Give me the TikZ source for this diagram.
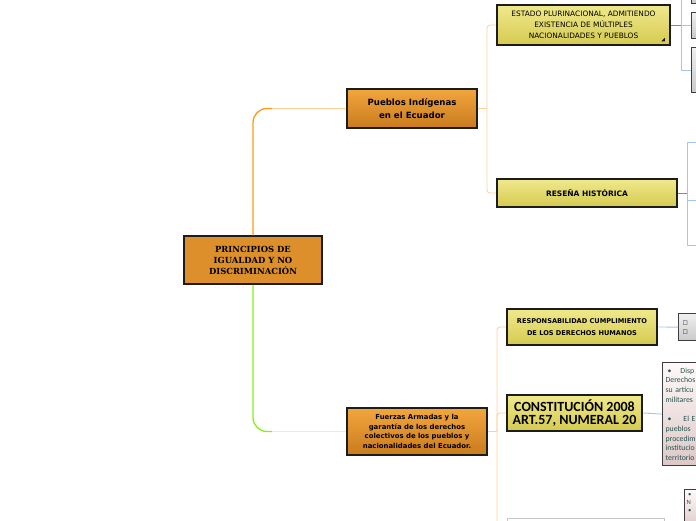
\documentclass[tikz,border=0pt]{standalone}
\usepackage{fontspec}
\setmainfont{DejaVu Sans}
\newfontfamily\slabfont{DejaVu Serif}
\newfontfamily\calfont{Carlito}
\usetikzlibrary{
  positioning,
  calc,
  shadows
}
\definecolor{mmOrange}{HTML}{DC8F2A}
\definecolor{mmOrangeTop}{HTML}{F3A63D}
\definecolor{mmOrangeBot}{HTML}{C97B1E}
\definecolor{mmYellowTop}{HTML}{EFE98C}
\definecolor{mmYellowBot}{HTML}{D5CA50}
\definecolor{mmBorder}{HTML}{1C1C1C}
\definecolor{linkOrange}{HTML}{FF9A12}
\definecolor{linkOrangeLight}{HTML}{FFD09A}
\definecolor{linkGreen}{HTML}{86F01C}
\definecolor{linkGreenLight}{HTML}{D9FBBA}
\definecolor{linkBlue}{HTML}{5A8FDA}
\definecolor{linkBlueLight}{HTML}{A6C4F0}
\definecolor{noteText}{HTML}{24544E}

\tikzset{
  mmshadow/.style={drop shadow={shadow xshift=1.3pt, shadow yshift=-1.3pt, opacity=0.3}},
  rootbox/.style={draw=mmBorder, line width=1.5pt, fill=mmOrange, mmshadow,
    minimum width=138pt, minimum height=48pt, inner sep=2pt, align=center,
    font=\slabfont\bfseries\fontsize{8.4}{11}\selectfont},
  topicbox/.style={draw=mmBorder, line width=1.6pt, top color=mmOrangeTop,
    bottom color=mmOrangeBot, mmshadow, inner sep=2pt, align=center},
  subbox/.style={draw=mmBorder, line width=2.5pt, top color=mmYellowTop,
    bottom color=mmYellowBot, mmshadow, inner sep=2pt, align=center},
  leafbox/.style={draw=mmBorder!85, line width=1.2pt, top color=gray!12,
    bottom color=gray!42, anchor=north west, inner sep=0pt},
  notebox/.style={draw=mmBorder!85, line width=1.2pt, top color=white!90!pink,
    bottom color=gray!45!pink!60, anchor=north west, align=left,
    text=noteText, font=\calfont\fontsize{7.8}{9.7}\selectfont},
  mainlink/.style={line width=1.3pt, rounded corners=14pt},
  sublink/.style={line width=0.8pt, rounded corners=3pt}
}

\begin{document}
\begin{tikzpicture}[x=1pt, y=-1pt]
  \useasboundingbox (0,0) rectangle (696,520);
  \clip (0,0) rectangle (696,520);
  \fill[white] (0,0) rectangle (696,520);

  % central topic and main topics
  \node[rootbox] (root) at (253,260) {PRINCIPIOS DE\\IGUALDAD Y NO\\DISCRIMINACIÓN};
  \node[topicbox, minimum width=130pt, minimum height=39pt,
    font=\bfseries\fontsize{8.6}{12.5}\selectfont] (pueblos) at (412,108.5)
    {Pueblos Indígenas\\en el Ecuador};
  \node[topicbox, minimum width=140pt, minimum height=47pt,
    font=\bfseries\fontsize{6.9}{9.4}\selectfont] (fuerzas) at (417,431.5)
    {Fuerzas Armadas y la\\garantía de los derechos\\colectivos de los pueblos y\\nacionalidades del Ecuador.};

  % subtopics
  \node[subbox, minimum width=173pt, minimum height=40pt,
    font=\fontsize{7.4}{11}\selectfont] (estado) at (583.5,25)
    {ESTADO PLURINACIONAL, ADMITIENDO\\EXISTENCIA DE MÚLTIPLES\\NACIONALIDADES Y PUEBLOS};
  \node[subbox, minimum width=180pt, minimum height=28pt,
    font=\bfseries\fontsize{7.5}{9}\selectfont] (resena) at (587,193) {RESEÑA HISTÓRICA};
  \node[subbox, minimum width=150pt, minimum height=36pt,
    font=\bfseries\fontsize{6.6}{12}\selectfont] (respons) at (582,327)
    {RESPONSABILIDAD CUMPLIMIENTO\\DE LOS DERECHOS HUMANOS};
  \node[subbox, minimum width=135pt, minimum height=36pt,
    font=\calfont\bfseries\fontsize{14}{13.5}\selectfont] (constit) at (574.5,413)
    {CONSTITUCIÓN 2008\\ART.57, NUMERAL 20};
  \fill[mmBorder] ($(estado.south east)+(-10,-5)$) -- ++(3.5,0) -- ++(0,-3.5) -- cycle;

  % leaves cut by the right edge
  \node[leafbox, minimum width=30pt, minimum height=23pt] (estTop) at (691,-20) {};
  \node[leafbox, minimum width=30pt, minimum height=26pt] (estMid) at (691,12) {};
  \node[leafbox, minimum width=30pt, minimum height=45pt] (estLow) at (691,47) {};
  \coordinate (resA) at (702,142);
  \coordinate (resB) at (702,200);
  \coordinate (resC) at (702,245);
  \node[leafbox, minimum height=27pt, text width=24pt, align=left, inner xsep=4pt,
    font=\fontsize{5.5}{9}\selectfont] (respLeaf) at (678,313) {□\\□};
  \node[notebox, minimum height=103pt, text width=40pt, inner xsep=3pt] (constLeaf) at (662,362)
    {\hspace{2pt}•\hspace{9pt}Disp\\Derechos\\su artícu\\militares\\[9.7pt]\hspace{2pt}•\hspace{12pt}El E\\pueblos\\procedim\\institucio\\territorio};
  \node[notebox, minimum height=40pt, minimum width=20pt] (bottomLeaf) at (684,489) {};
  \node[anchor=north west, align=left, inner sep=0pt, text=noteText,
    font=\calfont\fontsize{6.6}{8}\selectfont] (bottomText) at (686.5,493)
    {\hspace{1.5pt}•\\N\\\hspace{1.5pt}•};
  \node[draw=gray!45, line width=1.4pt, fill=white, anchor=north west,
    minimum width=157pt, minimum height=20pt] (fuerzasNext) at (507,518) {};

  % main links
  \coordinate (pueblosBend) at (272,108.5);
  \coordinate (fuerzasBend) at (272,431.5);
  \draw[mainlink, linkOrange] (root.north) |- (pueblosBend);
  \draw[line width=0.9pt, linkOrangeLight] (pueblosBend) -- (pueblos.west);
  \draw[mainlink, linkGreen] (root.south) |- (fuerzasBend);
  \draw[line width=0.9pt, linkGreenLight] (fuerzasBend) -- (fuerzas.west);

  % links to subtopics
  \coordinate (pueblosFork) at (487,108.5);
  \draw[sublink, linkOrangeLight] (pueblos.east) -- (pueblosFork);
  \draw[sublink, linkOrangeLight] (pueblosFork) |- (estado.west);
  \draw[sublink, linkOrangeLight] (pueblosFork) |- (resena.west);
  \coordinate (fuerzasFork) at (497,431.5);
  \draw[sublink, linkOrangeLight] (fuerzas.east) -- (fuerzasFork);
  \draw[sublink, linkOrangeLight] (fuerzasFork) |- (respons.west);
  \draw[sublink, linkOrangeLight] (fuerzasFork) |- (constit.west);
  \draw[sublink, linkOrangeLight] (fuerzasFork) |- (fuerzasNext.west);

  % links to leaves
  \coordinate (estadoFork) at (681,25);
  \draw[line width=1pt, linkBlue] (estado.east) -- (estadoFork);
  \foreach \leaf in {estTop, estMid, estLow}
    \draw[line width=0.8pt, linkBlueLight] (estadoFork) |- (\leaf.west);
  \coordinate (resenaFork) at (687,193);
  \draw[line width=1pt, linkBlue] (resena.east) -- (resenaFork);
  \foreach \leaf in {resA, resB, resC}
    \draw[line width=0.8pt, linkBlueLight] (resenaFork) |- (\leaf);
  \draw[line width=0.9pt, linkBlueLight] (respons.east) -- (respLeaf.west);
  \draw[line width=0.9pt, linkBlueLight] (constit.east) -- (constLeaf.west);
\end{tikzpicture}
\end{document}
